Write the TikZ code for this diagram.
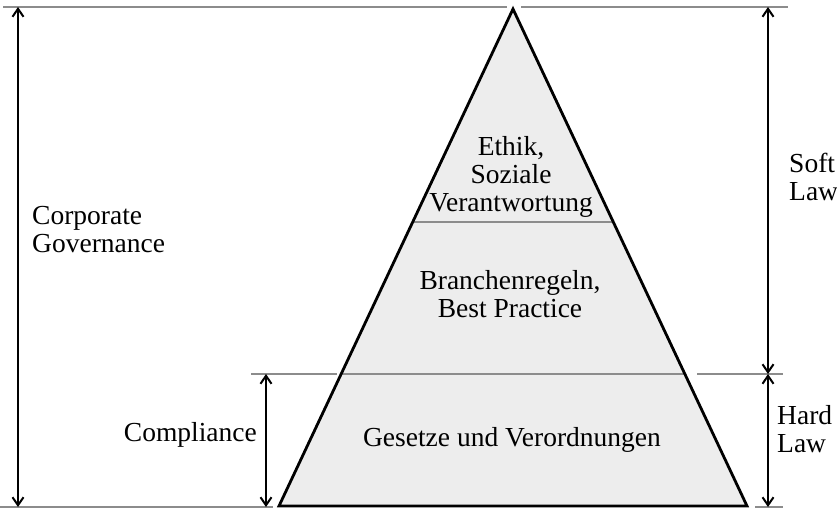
\documentclass[tikz,border=0pt]{standalone}
\usepackage{fontspec}
\setmainfont{Liberation Serif}
\usetikzlibrary{arrows.meta,calc}
\begin{document}
\begin{tikzpicture}[x=1pt,y=-1pt,
  lbl/.style={font=\fontsize{27.5}{28}\selectfont, inner sep=0pt},
  guide/.style={draw=black!45, line width=1.3pt},
  dim/.style={line width=2pt, {Straight Barb[length=8pt,width=11pt,line width=2pt]}-{Straight Barb[length=8pt,width=11pt,line width=2pt]}},
  pyr/.style={draw=black, line width=2.8pt, line join=miter}]
\useasboundingbox (0,0) rectangle (837,509);
% pyramid corners
\coordinate (apex) at (513,9);
\coordinate (bl) at (279,506);
\coordinate (br) at (747,506);
\fill[black!7] (apex) -- (br) -- (bl) -- cycle;
% layer separators
\coordinate (s1l) at ($(apex)!0.4286!(bl)$);
\coordinate (s1r) at ($(apex)!0.4286!(br)$);
\coordinate (s2l) at ($(apex)!0.7344!(bl)$);
\coordinate (s2r) at ($(apex)!0.7344!(br)$);
\draw[guide] (s1l) -- (s1r);
\draw[guide] (s2l) -- (s2r);
\draw[pyr] (apex) -- (br) -- (bl) -- cycle;
% guide lines outside
\coordinate (t0) at (3,7);
\coordinate (t1) at (507,7);
\coordinate (t2) at (521,7);
\coordinate (t3) at (788,7);
\draw[guide] (t0) -- (t1);
\draw[guide] (t2) -- (t3);
\coordinate (m0) at (251,374);
\coordinate (m1) at (337,374);
\coordinate (m2) at (697,374);
\coordinate (m3) at (783,374);
\draw[guide] (m0) -- (m1);
\draw[guide] (m2) -- (m3);
\coordinate (b0) at (0,507);
\coordinate (b1) at (273,507);
\coordinate (b2) at (755,507);
\coordinate (b3) at (783,507);
\draw[guide] (b0) -- (b1);
\draw[guide] (b2) -- (b3);
% dimension arrows
\coordinate (cgT) at (18,7);
\coordinate (cgB) at (18,507);
\draw[dim] (cgT) -- (cgB);
\coordinate (coT) at (266,374);
\coordinate (coB) at (266,507);
\draw[dim] (coT) -- (coB);
\coordinate (slT) at (768,7);
\coordinate (slB) at (768,374);
\coordinate (hlB) at (768,507);
\draw[dim] (slT) -- (slB);
\draw[dim] (slB) -- (hlB);
% labels (base anchor = baseline of the last line)
\node[lbl, anchor=base west, align=left] (cg) at (32,252) {Corporate\\Governance};
\node[lbl, anchor=base east] (co) at (257,441) {Compliance};
\node[lbl, anchor=base, align=center] (eth) at (511,211) {Ethik,\\Soziale\\Verantwortung};
\node[lbl, anchor=base, align=center] (br1) at (510,317) {Branchenregeln,\\Best Practice};
\node[lbl, anchor=base] (ges) at (512,446) {Gesetze und Verordnungen};
\node[lbl, anchor=base west, align=left] (soft) at (789,200) {Soft\\Law};
\node[lbl, anchor=base west, align=left] (hard) at (777,452) {Hard\\Law};
\end{tikzpicture}
\end{document}
